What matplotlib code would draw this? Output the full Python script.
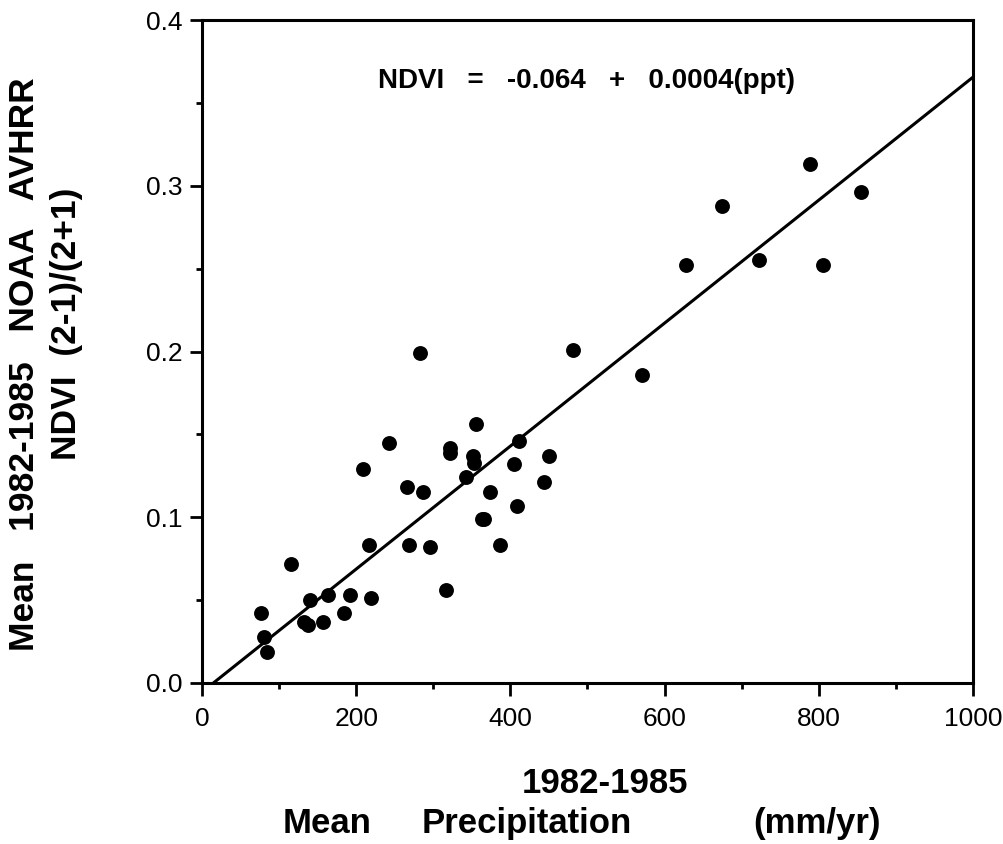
import numpy as np
import matplotlib
matplotlib.use("Agg")
import matplotlib.pyplot as plt

# precipitation (mm/yr) and NDVI
precip = [77, 81, 84, 115, 140, 132, 137, 157, 164, 184, 192, 219,
          209, 216, 242, 266, 286, 269, 296, 317, 322, 322, 355, 352,
          353, 342, 374, 363, 366, 387, 411, 405, 408, 443, 450, 283,
          481, 571, 628, 674, 722, 788, 805, 855]
ndvi = [0.042, 0.028, 0.019, 0.072, 0.050, 0.037, 0.035, 0.037, 0.053,
        0.042, 0.053, 0.051, 0.129, 0.083, 0.145, 0.118, 0.115, 0.083,
        0.082, 0.056, 0.142, 0.139, 0.156, 0.137, 0.133, 0.124, 0.115,
        0.099, 0.099, 0.083, 0.146, 0.132, 0.107, 0.121, 0.137, 0.199,
        0.201, 0.186, 0.252, 0.288, 0.255, 0.313, 0.252, 0.296]

# regression line as drawn in the figure
line_x = [14.7, 1000]
line_slope = 0.000371
line_icpt = -0.00546

W, H = 1004, 844
plt.rcParams['font.family'] = ['Liberation Sans', 'DejaVu Sans']

fig = plt.figure(figsize=(W / 100, H / 100), dpi=100)
ax = fig.add_axes([202 / W, 1 - 683 / H, 771 / W, 663 / H])

ax.scatter(precip, ndvi, s=115, color='black', zorder=3, linewidths=0)
lx = np.array(line_x)
ax.plot(lx, line_icpt + line_slope * lx, color='black', lw=2.2, zorder=2)

ax.set_xlim(0, 1000)
ax.set_ylim(0, 0.4)
ax.set_xticks([0, 200, 400, 600, 800, 1000])
ax.set_xticks(np.arange(100, 1000, 200), minor=True)
ax.set_yticks([0.0, 0.1, 0.2, 0.3, 0.4])
ax.set_yticks([0.05, 0.15, 0.25, 0.35], minor=True)
ax.set_yticklabels(['0.0', '0.1', '0.2', '0.3', '0.4'])

for s in ax.spines.values():
    s.set_linewidth(2.2)
ax.tick_params(which='major', direction='out', length=9, width=2,
               labelsize=19, top=False, right=False)
ax.tick_params(which='minor', direction='out', length=4.5, width=2,
               top=False, right=False)
ax.tick_params(axis='x', which='major', pad=8)
ax.tick_params(axis='y', which='major', pad=5)

fig.text(587 / W, 1 - 88 / H, 'NDVI   =   -0.064   +   0.0004(ppt)',
         ha='center', va='baseline', fontsize=20, fontweight='bold')

# x label: two lines, words spread out as in the original
fig.text(605 / W, 1 - 793 / H, '1982-1985', ha='center', va='baseline',
         fontsize=25, fontweight='bold')
for word, cx in [('Mean', 327), ('Precipitation', 527), ('(mm/yr)', 817)]:
    fig.text(cx / W, 1 - 833 / H, word, ha='center', va='baseline',
             fontsize=25, fontweight='bold')

fig.text(25 / W, 1 - 364 / H, 'Mean   1982-1985   NOAA   AVHRR', rotation=90,
         ha='center', va='center', fontsize=25.5, fontweight='bold')
fig.text(67 / W, 1 - 324 / H, 'NDVI  (2-1)/(2+1)', rotation=90,
         ha='center', va='center', fontsize=25.5, fontweight='bold')

fig.savefig('out.png', dpi=100)
